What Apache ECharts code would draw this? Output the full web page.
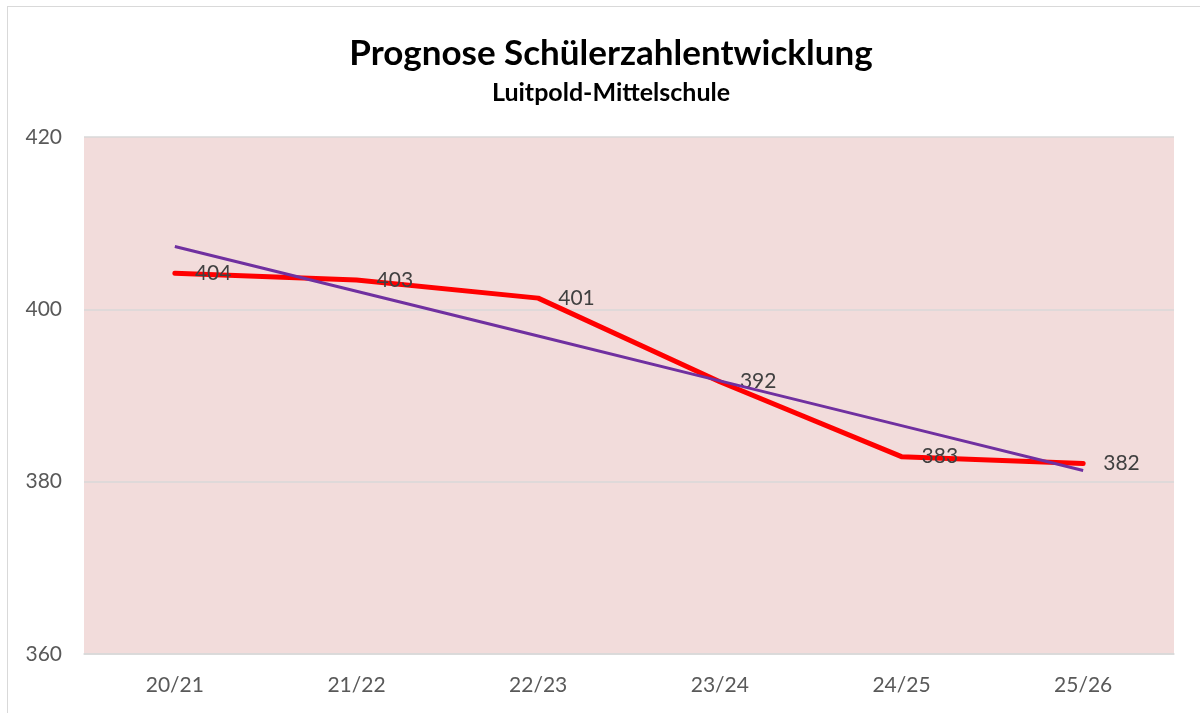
<!doctype html>
<html>
<head>
<meta charset="utf-8">
<script src="https://cdn.jsdelivr.net/npm/echarts@6/dist/echarts.min.js"></script>
<style>
    html, body {margin: 0; padding: 0; background: #fff;}
    #frame {position: absolute; left: 7px; top: 6px; width: 1300px; height: 800px; border-left: 1px solid #d9d9d9; border-top: 1px solid #d9d9d9;}
    #chart {position: absolute; left: 0; top: 0; width: 1200px; height: 713px;}
</style>
</head>
<body>
<div id="frame"></div>
<div id="chart"></div>
<script>
    var years = ['20/21', '21/22', '22/23', '23/24', '24/25', '25/26'];
    var schueler = [404.2, 403.4, 401.3, 391.6, 382.9, 382.1];
    var trend = [407.3, 402.1, 396.9, 391.7, 386.5, 381.3];
    var yTicks = [360, 380, 400, 420];

    var myChart = echarts.init(document.getElementById('chart'));
    var font = 'Lato, "Open Sans", sans-serif';

    option = {
        animation: false,
        textStyle: {fontFamily: font},
        title: [
            {
                text: 'Prognose Schülerzahlentwicklung',
                left: 606, top: 31, textAlign: 'center',
                textStyle: {fontSize: 35, fontWeight: 'bold', color: '#000', fontFamily: font}
            },
            {
                text: 'Luitpold-Mittelschule',
                left: 606, top: 75, textAlign: 'center',
                textStyle: {fontSize: 25, fontWeight: 'bold', color: '#000', fontFamily: font}
            }
        ],
        grid: {
            left: 84, right: 26, top: 137, bottom: 59,
            show: true, backgroundColor: '#f2dcdb', borderWidth: 0
        },
        xAxis: {
            type: 'category',
            data: years,
            boundaryGap: true,
            axisTick: {show: false},
            axisLine: {lineStyle: {color: '#d9d9d9', width: 1.5}},
            axisLabel: {color: '#595959', fontSize: 21, margin: 21, fontFamily: font}
        },
        yAxis: {
            type: 'value',
            min: yTicks[0], max: yTicks[yTicks.length - 1], interval: 20,
            axisLine: {show: false},
            axisTick: {show: false},
            axisLabel: {color: '#595959', fontSize: 21, margin: 22, fontFamily: font},
            splitLine: {lineStyle: {color: '#d9d9d9', width: 1.5}}
        },
        series: [
            {
                name: 'Schüler',
                type: 'line',
                data: schueler,
                symbol: 'circle',
                symbolSize: 0.1,
                itemStyle: {color: '#ff0000'},
                lineStyle: {color: '#ff0000', width: 5, cap: 'round', join: 'round'},
                label: {
                    show: true, position: 'right', distance: 20,
                    color: '#404040', fontSize: 21, fontFamily: font,
                    formatter: function (p) { return Math.round(p.value); }
                },
                z: 3
            },
            {
                name: 'Trend',
                type: 'line',
                data: trend,
                symbol: 'none',
                lineStyle: {color: '#7030a0', width: 3},
                z: 4
            }
        ]
    };

    myChart.setOption(option);
</script>
</body>
</html>
